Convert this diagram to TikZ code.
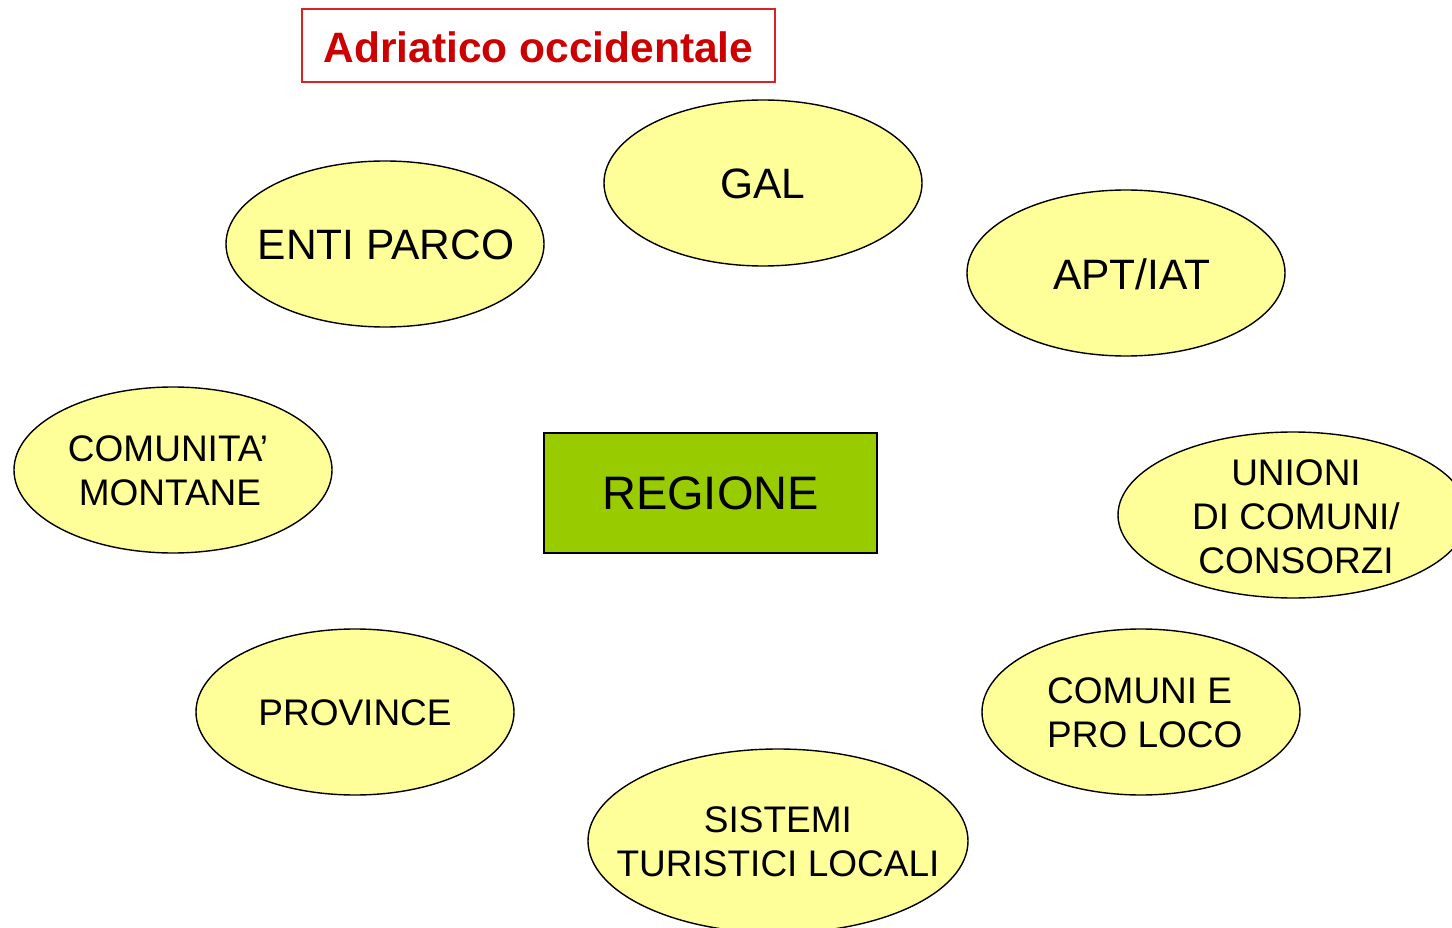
\documentclass[tikz,border=0pt]{standalone}
\usepackage{fontspec}
\setmainfont{Liberation Sans}
\usetikzlibrary{shapes.geometric}
\definecolor{ellfill}{HTML}{FFFF99}
\definecolor{regfill}{HTML}{99CC00}
\definecolor{titlered}{HTML}{CC0000}
\definecolor{boxred}{HTML}{DD2020}
\tikzset{
  ell/.style={ellipse, draw=black, line width=1.4pt, fill=ellfill, inner sep=0pt},
  bigtxt/.style={font=\fontsize{42.5}{48}\selectfont, align=center, inner sep=0pt},
  midtxt/.style={font=\fontsize{37}{44}\selectfont, align=center, inner sep=0pt},
}
\begin{document}
\begin{tikzpicture}[x=1pt,y=1pt]
\useasboundingbox (0,0) rectangle (1452,-928);
\fill[white] (0,0) rectangle (1452,-928);
% title
\node[draw=boxred, line width=1.6pt, minimum width=473pt, minimum height=73pt, inner sep=0pt] (title) at (538.5,-45.5) {};
\node[text=titlered, inner sep=0pt, font=\fontsize{42.5}{48}\selectfont\bfseries] (titlet) at (538.5,-47.5) {Adriatico occidentale};
% ellipses
\node[ell, minimum width=318pt, minimum height=166pt] (gal) at (763,-183) {};
\node[bigtxt] (galt) at (763,-184) {GAL};
\node[ell, minimum width=318pt, minimum height=166pt] (enti) at (385,-244) {};
\node[bigtxt] (entit) at (386,-245) {ENTI PARCO};
\node[ell, minimum width=318pt, minimum height=166pt] (apt) at (1126,-273) {};
\node[bigtxt] (aptt) at (1132,-274) {APT/IAT};
\node[ell, minimum width=318pt, minimum height=166pt] (com) at (173,-470) {};
\node[midtxt] (comt) at (168,-471) {COMUNITA’\\\hspace*{4pt}MONTANE};
\node[ell, minimum width=350pt, minimum height=166pt] (uni) at (1293,-515) {};
\node[midtxt, text depth=0pt] (unit) at (1296,-517) {UNIONI\\DI COMUNI/\\CONSORZI};
\node[ell, minimum width=318pt, minimum height=166pt] (prol) at (1141,-712) {};
\node[midtxt, align=left, anchor=west] (prolt) at (1047,-713) {COMUNI E\\PRO LOCO};
\node[ell, minimum width=318pt, minimum height=166pt] (prov) at (355,-712) {};
\node[midtxt] (provt) at (355,-713) {PROVINCE};
\node[ell, minimum width=380pt, minimum height=184pt] (stl) at (778,-841) {};
\node[midtxt] (stlt) at (778,-842) {SISTEMI\\TURISTICI LOCALI};
% regione
\node[draw=black, line width=1.4pt, fill=regfill, minimum width=333pt, minimum height=120pt, inner sep=0pt,
      font=\fontsize{47}{52}\selectfont] (reg) at (710.5,-493) {REGIONE};
\end{tikzpicture}
\end{document}
